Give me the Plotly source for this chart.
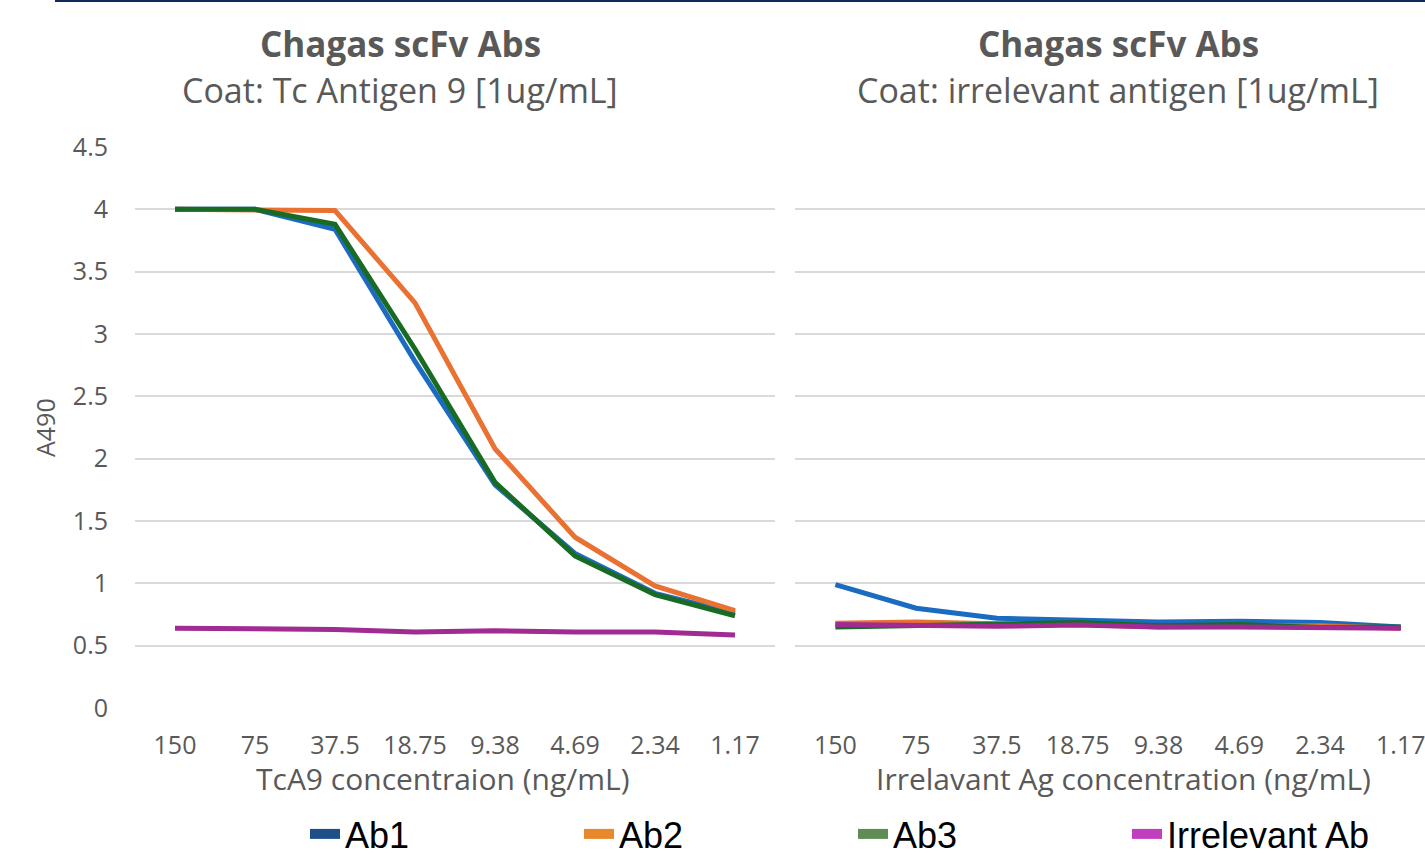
import plotly.graph_objects as go

concentrations = ["150", "75", "37.5", "18.75", "9.38", "4.69", "2.34", "1.17"]
series_names = ["Ab1", "Ab2", "Ab3", "Irrelevant Ab"]

# Left panel: coat Tc Antigen 9
tca9_ab1 = [4.00, 4.00, 3.84, 2.78, 1.79, 1.24, 0.92, 0.76]
tca9_ab2 = [4.00, 4.00, 3.99, 3.25, 2.08, 1.37, 0.98, 0.78]
tca9_ab3 = [4.00, 4.00, 3.88, 2.88, 1.81, 1.22, 0.91, 0.74]
tca9_irr = [0.64, 0.635, 0.63, 0.61, 0.62, 0.61, 0.61, 0.585]

# Right panel: coat irrelevant antigen
irr_ab1 = [0.99, 0.80, 0.72, 0.71, 0.69, 0.695, 0.685, 0.65]
irr_ab2 = [0.68, 0.69, 0.675, 0.67, 0.65, 0.655, 0.66, 0.64]
irr_ab3 = [0.65, 0.66, 0.675, 0.685, 0.66, 0.67, 0.645, 0.65]
irr_irr = [0.67, 0.665, 0.655, 0.665, 0.65, 0.65, 0.65, 0.64]

y_ticks = [0, 0.5, 1, 1.5, 2, 2.5, 3, 3.5, 4, 4.5]

line_colors = ["#1B6CC0", "#E97132", "#196B24", "#A02B93"]
legend_colors = ["#1D4F8A", "#E8872C", "#5F8C53", "#C03FBF"]

W, H = 1425, 855
FONT = "Open Sans"
GRAY = "#595959"

fig = go.Figure()

left = [tca9_ab1, tca9_ab2, tca9_ab3, tca9_irr]
right = [irr_ab1, irr_ab2, irr_ab3, irr_irr]

for name, vals, col in zip(series_names, left, line_colors):
    fig.add_trace(go.Scatter(x=concentrations, y=vals, mode="lines", name=name,
                             line=dict(color=col, width=5), showlegend=False,
                             xaxis="x", yaxis="y"))
for name, vals, col in zip(series_names, right, line_colors):
    fig.add_trace(go.Scatter(x=concentrations, y=vals, mode="lines", name=name,
                             line=dict(color=col, width=5), showlegend=False,
                             xaxis="x2", yaxis="y2"))
# legend entries
for name, col in zip(series_names, legend_colors):
    fig.add_trace(go.Scatter(x=[None], y=[None], mode="lines", name=name,
                             line=dict(color=col, width=10), showlegend=True,
                             xaxis="x", yaxis="y"))

ydom = [(H - 708) / H, (H - 147) / H]
axis_common = dict(type="category", showgrid=False, zeroline=False, showline=False,
                   ticks="", tickfont=dict(family=FONT, size=25, color=GRAY),
                   ticklabelstandoff=20, fixedrange=True)
yaxis_common = dict(range=[0, 4.5], tickvals=y_ticks, showgrid=True, gridcolor="#D9D9D9",
                    gridwidth=2, zeroline=False, showline=False, ticks="", fixedrange=True)

fig.update_layout(
    width=W, height=H, autosize=False,
    margin=dict(l=0, r=0, t=0, b=0, autoexpand=False),
    paper_bgcolor="white", plot_bgcolor="white",
    xaxis=dict(domain=[135 / W, 775 / W], range=[-0.5, 7.5], anchor="y", **axis_common),
    xaxis2=dict(domain=[795 / W, 1.0], range=[-0.5, 7.3], anchor="y2", **axis_common),
    yaxis=dict(domain=ydom, anchor="x", showticklabels=True,
               tickfont=dict(family=FONT, size=25, color=GRAY), ticklabelstandoff=26,
               **yaxis_common),
    yaxis2=dict(domain=ydom, anchor="x2", showticklabels=False, **yaxis_common),
    legend=dict(orientation="h", x=305 / W, xanchor="left", y=1 - 834 / H, yanchor="middle",
                font=dict(family="Liberation Sans, Arial", size=36, color="black"),
                entrywidth=229, entrywidthmode="pixels", bgcolor="rgba(0,0,0,0)",
                itemclick=False, itemdoubleclick=False),
    showlegend=True,
)

annotations = [
    dict(text="<b>Chagas scFv Abs</b>", x=400 / W, y=1 - 43 / H, font=dict(size=35, color=GRAY)),
    dict(text="Coat: Tc Antigen 9 [1ug/mL]", x=400 / W, y=1 - 90 / H, font=dict(size=34, color=GRAY)),
    dict(text="<b>Chagas scFv Abs</b>", x=1118 / W, y=1 - 43 / H, font=dict(size=35, color=GRAY)),
    dict(text="Coat: irrelevant antigen [1ug/mL]", x=1118 / W, y=1 - 90 / H, font=dict(size=34, color=GRAY)),
    dict(text="TcA9 concentraion (ng/mL)", x=443 / W, y=1 - 778 / H, font=dict(size=30, color=GRAY)),
    dict(text="Irrelavant Ag concentration (ng/mL)", x=1123 / W, y=1 - 778 / H, font=dict(size=30, color=GRAY)),
    dict(text="A490", x=45 / W, y=1 - 428 / H, textangle=-90, font=dict(size=25, color=GRAY)),
]
for a in annotations:
    a["font"]["family"] = FONT
    fig.add_annotation(xref="paper", yref="paper", xanchor="center", yanchor="middle",
                       showarrow=False, **a)

fig.add_shape(type="line", xref="paper", yref="paper", x0=55 / W, x1=1.0,
              y0=1 - 1 / H, y1=1 - 1 / H, line=dict(color="#0E2A5C", width=2))

fig.write_html("out.html")
